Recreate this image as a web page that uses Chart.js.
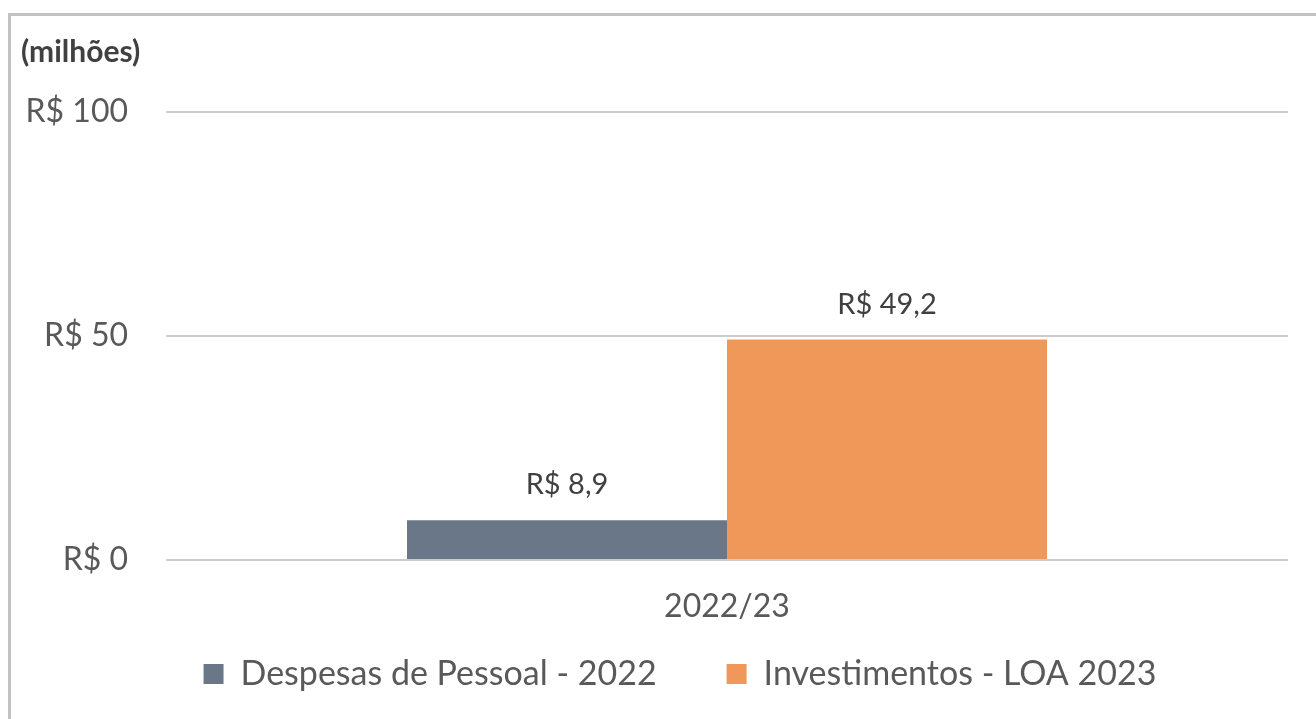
<!DOCTYPE html>
<html>
<head>
<meta charset="utf-8">
<script src="https://cdn.jsdelivr.net/npm/chart.js@4/dist/chart.umd.min.js"></script>
<style>
  html, body { margin: 0; padding: 0; background: #fff; overflow: hidden; }
  #frame {
    position: absolute; left: 8px; top: 13px; width: 1330px; height: 730px;
    border-left: 3px solid #c2c2c2; border-top: 3px solid #c2c2c2;
  }
  #chart { position: absolute; left: 0; top: 0; }
</style>
</head>
<body>
<div id="frame"></div>
<canvas id="chart" width="1316" height="719"></canvas>
<script>
// valores em milhões de R$
const categories = ["2022/23"];
const despesasPessoal = [8.9];
const investimentosLoa = [49.2];
const seriesNames = ["Despesas de Pessoal - 2022", "Investimentos - LOA 2023"];
const yTicks = [0, 50, 100];

const FONT = "Lato, 'Open Sans', sans-serif";

function brl(v) {
    return 'R$ ' + v.toLocaleString('pt-BR');
}

// rótulo "(milhões)" no canto e valores em cima das barras
const textPlugin = {
    id: 'textPlugin',
    afterDatasetsDraw(chart) {
        const ctx = chart.ctx;
        ctx.save();
        ctx.fillStyle = '#404040';
        ctx.font = "bold 30px " + FONT;
        ctx.textAlign = 'left';
        ctx.textBaseline = 'middle';
        ctx.fillText('(milhões)', 21, 52);

        ctx.font = "29px " + FONT;
        ctx.textAlign = 'center';
        ctx.textBaseline = 'alphabetic';
        chart.data.datasets.forEach(function (ds, i) {
            chart.getDatasetMeta(i).data.forEach(function (bar, j) {
                ctx.fillText(brl(ds.data[j]), bar.x, bar.y - 26);
            });
        });
        ctx.restore();
    }
};

// legenda: espaçamento grande entre itens, mas linha logo abaixo do eixo
const legendPlace = {
    id: 'legendPlace',
    afterLayout(chart) {
        const lg = chart.legend;
        lg.top = 587;
        lg.bottom = chart.height;
        lg.height = lg.bottom - lg.top;
        lg.left += 36;
        lg.right += 36;
    }
};

const ctx = document.getElementById('chart').getContext('2d');
new Chart(ctx, {
    type: 'bar',
    data: {
        labels: categories,
        datasets: [{
            label: seriesNames[0],
            data: despesasPessoal,
            backgroundColor: '#697789'
        }, {
            label: seriesNames[1],
            data: investimentosLoa,
            backgroundColor: '#f0975a'
        }]
    },
    options: {
        responsive: false,
        animation: false,
        devicePixelRatio: 1,
        categoryPercentage: 0.5704,
        barPercentage: 1,
        layout: {
            padding: { left: 0, right: 28, top: 112, bottom: 0 }
        },
        plugins: {
            tooltip: { enabled: false },
            legend: {
                position: 'bottom',
                maxHeight: 80,
                labels: {
                    boxWidth: 20,
                    boxHeight: 20,
                    padding: 70,
                    color: '#595959',
                    font: { family: FONT, size: 34 }
                }
            }
        },
        scales: {
            x: {
                grid: { display: false },
                border: { display: false },
                ticks: {
                    color: '#595959',
                    padding: 19,
                    font: { family: FONT, size: 32 }
                },
                afterFit: function (scale) { scale.height = 79; }
            },
            y: {
                min: 0,
                max: 100,
                afterBuildTicks: function (scale) {
                    scale.ticks = yTicks.map(function (v) { return { value: v }; });
                },
                grid: { color: '#cccccc', lineWidth: 2, drawTicks: false },
                border: { display: false },
                ticks: {
                    color: '#595959',
                    padding: 38,
                    font: { family: FONT, size: 32 },
                    callback: function (v) { return 'R$ ' + v; }
                },
                afterFit: function (scale) { scale.width = 166; }
            }
        }
    },
    plugins: [textPlugin, legendPlace]
});
</script>
</body>
</html>
